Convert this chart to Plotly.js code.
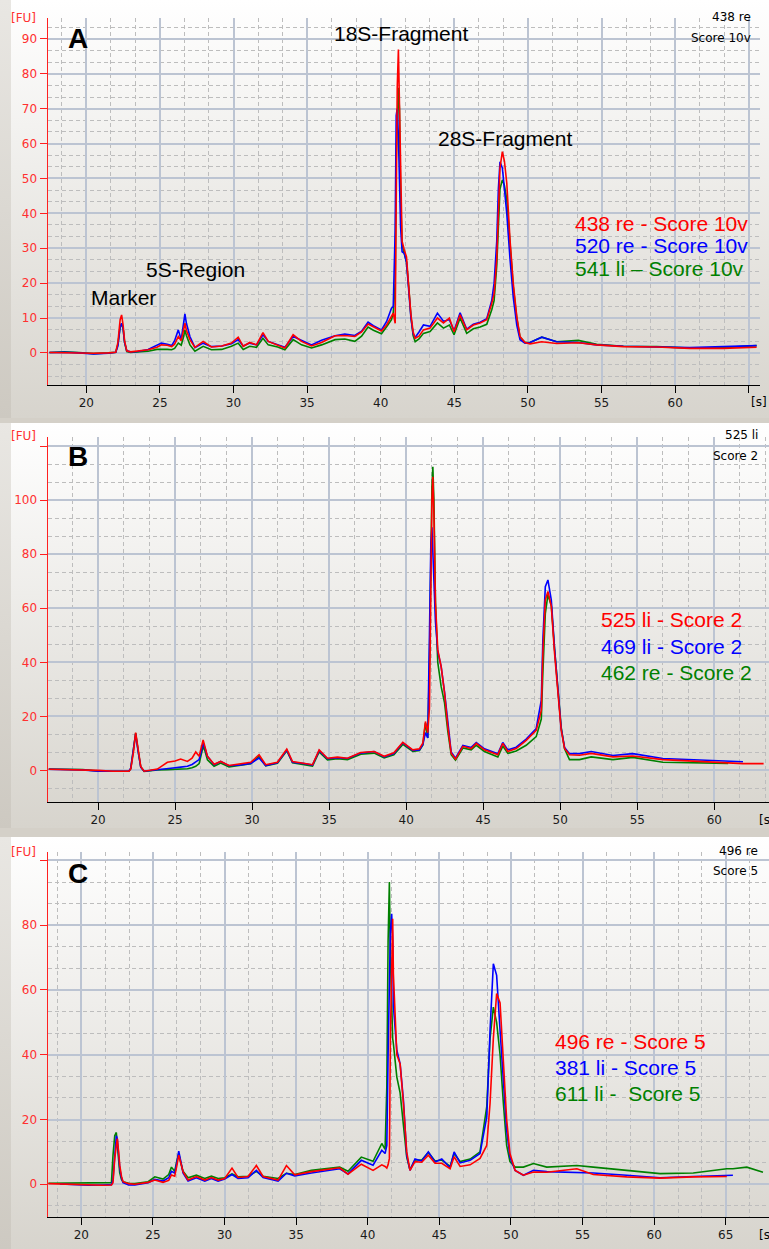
<!DOCTYPE html>
<html><head><meta charset="utf-8">
<script src="https://cdn.plot.ly/plotly-3.0.1.min.js"></script>
<style>
html,body{margin:0;padding:0;background:#d4d0c8;width:769px;height:1249px;overflow:hidden;}
.wrap{position:absolute;left:0;width:769px;background:linear-gradient(#e9e7e3,#cdc9c1);}
.panel{position:absolute;left:11px;top:0;width:758px;background:linear-gradient(#ffffff,#d7d4cd);}
</style></head><body>
<div class="wrap" style="top:0;height:418px"><div id="pa" class="panel" style="height:418px"></div></div>
<div class="wrap" style="top:423px;height:405px"><div id="pb" class="panel" style="height:405px"></div></div>
<div class="wrap" style="top:837px;height:412px"><div id="pc" class="panel" style="height:412px"></div></div>
<script>
// ---------------- Panel A data ----------------
var a_time = [17.5,18.5,19.5,20.5,21.5,22.0,22.15,22.3,22.4,22.5,22.6,22.75,23.0,23.5,24.2,24.8,25.1,25.5,25.8,26.0,26.25,26.45,26.6,26.7,26.8,27.04,27.38,27.94,28.5,29.2,29.86,30.32,30.66,31.1,31.56,32.0,32.36,33.0,33.49,34.05,34.62,35.3,35.98,36.9,37.56,38.24,38.7,39.14,39.5,40.05,40.4,40.73,40.85,40.98,41.05,41.12,41.2,41.27,41.35,41.45,41.6,41.75,41.9,42.05,42.2,42.34,42.6,42.9,43.35,43.85,44.26,44.66,44.98,45.39,45.84,46.29,46.75,47.2,47.54,47.7,47.88,47.99,48.1,48.26,48.4,48.56,48.78,49.0,49.24,49.46,49.8,50.14,50.94,51.95,53.42,54.67,56.48,58.75,61.0,63.26,65.53];
var a_red = [0.1,0.0,0.0,-0.1,0.0,0.2,3,9.5,10.9,8,3.5,0.6,0.3,0.5,0.9,1.6,2.3,2.2,1.8,2.5,4.7,3.5,6,8.5,6.5,3.8,1.6,3.3,1.7,2.0,2.8,4.5,1.9,3.0,2.3,5.8,3.3,2.3,1.4,5.2,3.3,2.0,3.0,4.9,5.0,4.7,6.0,8.3,7.5,6.3,8.0,10.5,11.4,8.5,40,76,87,72,48,32,29.5,27.5,19,11,6,4.2,4.8,6.6,7.1,10.0,8.6,10.0,6.1,10.9,6.6,8.0,8.6,9.5,14.2,17,27,42,53,57.7,55,48.7,32.4,20,10.4,4.7,3.0,2.6,3.2,2.7,2.9,2.3,1.8,1.7,1.3,1.3,1.6];
var a_blue = [0.1,0.2,0.0,-0.3,-0.1,0.2,2,7.5,8.5,7,3,0.6,0.3,0.4,1.0,2.2,2.8,2.5,2.1,3.5,6.6,3.8,8,11.2,8.5,4.7,1.5,2.8,1.8,2.0,2.6,3.8,2.0,2.8,2.3,5.2,3.3,2.4,1.6,4.7,3.5,2.3,3.6,4.9,5.4,5.0,6.2,8.8,7.8,6.6,9,12.8,13.3,35,68,70,62,45,36,29,28.5,26,18,10,5.5,4.4,6,8.0,7.6,11.4,9.1,9.5,6.3,11.5,6.8,8.2,8.8,9.8,15,20,32,47,54.8,53,47,40,27,16,8,3.8,2.8,3.0,4.5,3.2,3.0,2.3,1.9,1.6,1.5,1.8,2.1];
var a_green = [0.1,0.3,0.1,-0.2,0.0,0.2,2.5,7.5,8.2,7,3,0.4,0.1,0.2,0.5,1.0,1.05,1.0,0.9,1.3,2.8,2.2,4.5,6.6,5,2.3,0.5,1.9,0.9,1.0,1.9,2.8,1.0,1.9,1.6,4.2,2.3,1.7,0.9,3.8,2.3,1.4,2.3,3.8,4.0,3.3,4.8,7.4,6.5,5.5,7.5,9.5,11.5,20,55,68,76,70,45,31,28,26,19,10.5,5.0,3.2,4.0,5.6,6.1,8.6,7.1,8.0,5.2,10.0,5.6,6.9,7.4,8.2,12.4,15,25,38,47,49.6,48,44,30,19,10,4.5,3.0,3.0,4.5,3.2,3.6,2.5,1.9,1.8,1.4,1.5,2.1];
var a_xticks = [20,25,30,35,40,45,50,55,60,65];
var a_xlabels = ['20','25','30','35','40','45','50','55','60',''];
var a_yticks = [0,10,20,30,40,50,60,70,80,90];
var a_ylabels = ['0','10','20','30','40','50','60','70','80','90'];
var a_names = ['438 re - Score 10v','520 re - Score 10v','541 li \u2013 Score 10v'];

// ---------------- Panel B data ----------------
var b_time = [16.8,18,19,20,21,22.0,22.12,22.29,22.44,22.6,22.77,22.99,23.4,23.85,24.5,25.0,25.36,25.8,26.1,26.34,26.56,26.7,26.82,26.95,27.1,27.53,27.96,28.5,29.26,29.91,30.45,30.88,31.64,32.25,32.62,33.38,33.92,34.35,34.89,35.54,36.19,37.05,37.92,38.57,39.2,39.78,40.1,40.43,40.86,41.08,41.25,41.4,41.51,41.6,41.67,41.73,41.8,41.9,42.05,42.27,42.49,42.7,42.92,43.2,43.68,44.22,44.55,45.08,45.62,45.95,46.27,46.6,47.14,47.79,48.44,48.77,48.87,49.03,49.2,49.42,49.63,49.84,50.06,50.28,50.6,51.25,52.01,53.42,54.71,56.66,58.83,59.9,60.9,61.86,63.2];
var b_red = [0.4,0.3,0.2,0.0,-0.3,-0.3,0.5,6.5,14.0,7.6,1.5,-0.3,0.0,0.5,3.0,3.5,4.2,3.3,4.5,6.8,5.2,8,11.3,8.5,5.2,2.3,3.3,1.8,2.3,3.0,5.8,2.1,3.0,7.9,3.3,2.7,2.1,7.6,4.5,4.9,4.5,6.6,7.0,5.2,6.5,10.4,8.9,7.6,8.0,10.1,18.1,14,23,75,100,108.7,95,62,44.6,38.4,28.6,16.3,6.4,4.2,8.9,8.1,10.0,7.6,6.6,5.8,10.0,7.0,8.1,11.1,14.8,22.2,43,63.1,66.2,60.7,43.4,28.6,15,8.1,5.8,5.6,6.3,5.0,5.3,4.0,3.5,3.0,2.8,2.5,2.5];
var b_blue = [0.4,0.3,0.2,-0.3,-0.3,-0.3,0.8,8,13.5,7.0,1.2,-0.3,0.0,0.3,0.9,1.0,1.2,1.5,2.2,3.3,4.0,7,10.1,8,5.2,2.1,3.3,1.7,2.0,2.6,4.6,1.8,2.8,7.5,3.0,2.5,2.0,7.3,4.3,4.7,4.4,6.4,7.0,5.0,6.2,10.2,8.8,7.4,7.6,9.5,14,12,50,84,90,80,66,55,44,38.4,29,17,6.8,4.5,9.2,8.5,10.3,8.0,7.0,6.2,10.3,7.6,8.6,11.6,15.5,26,48,68,70.5,63,45,29,15.5,8.5,6.2,6.2,7.0,5.5,6.2,4.4,3.8,3.5,3.3,3.2,null];
var b_green = [0.5,0.4,0.3,-0.2,-0.3,-0.3,0.6,7,13.8,7.2,1.3,-0.4,0.0,0.2,0.3,0.4,0.5,0.6,1.0,1.5,2.5,5.5,8.9,7,3.9,1.5,2.7,1.3,1.8,2.5,5.2,1.7,2.6,7.3,2.8,2.2,1.6,6.8,3.9,4.3,4.0,6.0,6.4,4.6,5.8,9.6,8.3,7.0,7.4,9.4,17.5,12,40,85,105,112.4,100,62,40,31,25,14.5,5.8,3.8,8.3,7.6,9.3,7.0,5.9,5.0,9.0,6.3,7.2,9.3,12.5,19,36,58,65,61,45,30,16,8,4.0,4.0,5.0,4.0,4.8,3.0,2.8,2.6,2.6,null,null];
var b_xticks = [20,25,30,35,40,45,50,55,60];
var b_xlabels = ['20','25','30','35','40','45','50','55','60'];
var b_yticks = [0,20,40,60,80,100,120];
var b_ylabels = ['0','20','40','60','80','100',''];
var b_names = ['525 li - Score 2','469 li - Score 2','462 re - Score 2'];

// ---------------- Panel C data ----------------
var c_time = [17.7,18.5,19.5,20.5,21.5,22.1,22.21,22.33,22.44,22.51,22.6,22.68,22.8,22.91,23.3,23.73,24.66,25.13,25.7,26.1,26.29,26.52,26.68,26.8,26.95,27.1,27.45,28.03,28.62,29.08,29.55,30.01,30.52,30.94,31.64,32.22,32.69,33.74,34.32,34.9,36.06,37.35,38.04,38.62,39.55,40.37,40.98,41.21,41.33,41.42,41.51,41.58,41.67,41.74,41.79,42.03,42.26,42.49,42.72,42.95,43.3,43.77,44.23,44.7,45.17,45.75,46.03,46.45,47.15,47.84,48.31,48.54,48.77,49.0,49.24,49.47,49.7,49.93,50.29,50.87,51.57,52.5,54.6,55.75,58.08,60.41,62.73,65.07,65.5,66.47,67.6];
var c_red = [0.2,0.1,0.0,-0.3,-0.3,-0.2,0.5,8,12.5,14.1,10,5.9,2.5,0.8,0.2,0.0,0.6,1.3,0.6,1.2,2.9,2.5,6,9.0,6.5,3.9,1.3,2.4,1.3,2.1,1.3,1.8,5.0,2.1,2.4,5.8,2.4,1.3,5.8,2.9,3.9,4.7,5.1,3.1,6.2,4.3,6.0,5.5,5.0,6.0,8,45,75,82,65,40,37.2,25,10,4.3,7.0,6.8,9.0,6.5,6.5,4.8,8.5,5.5,6.0,8.0,12,25,45,58.9,56,38,20,9.5,4.3,2.8,3.8,3.7,4.8,3.0,2.3,1.9,2.3,2.4,null,null,null];
var c_blue = [null,0.1,-0.1,-0.3,-0.2,-0.1,1.5,10,15,14,9,5,2,0.5,-0.2,-0.2,0.5,1.5,1.0,2.0,4.0,3.5,7,10.2,7,3.5,1.0,2.0,1.0,1.8,1.0,1.6,3.0,1.8,2.0,4.3,2.1,1.0,3.4,2.6,3.5,4.5,4.8,3.2,7.4,5.9,10.5,9.5,12,40,70,78,83.5,75,55,41.4,37.2,26,9,4.3,7.8,7.2,10.0,6.9,7.8,5.1,10,6.6,7.4,9.5,20.8,47.5,68.1,64.5,47.5,32.1,16.7,8.4,4.3,2.8,4.3,3.9,3.5,3.5,2.8,2.0,2.4,2.8,2.8,null,null];
var c_green = [0.3,0.3,0.3,0.3,0.3,0.5,9,15,16.0,13,7,3.5,1.5,0.8,0.3,0.2,0.8,2.3,1.6,3.0,5.3,4.0,7.5,9.5,6.5,4.0,2.0,2.8,1.8,2.5,1.8,2.0,3.2,2.3,2.5,4.0,2.5,1.8,3.4,3.0,4.3,5.0,5.3,4.0,8.4,7.1,12.6,10.8,30,75,93.3,70,50,45,43.4,33.1,28.2,18.8,8.4,4.5,7.5,7.5,9.8,7.2,7.5,5.5,9.5,7.0,7.8,10.0,24,45,54.7,50,40,25,12,7,5.3,5.3,6.4,5.3,5.8,5.3,4.3,3.3,3.5,4.8,4.8,5.3,3.7];
var c_xticks = [20,25,30,35,40,45,50,55,60,65];
var c_xlabels = ['20','25','30','35','40','45','50','55','60','65'];
var c_yticks = [0,20,40,60,80,100];
var c_ylabels = ['0','20','40','60','80',''];
var c_names = ['496 re - Score 5','381 li - Score 5','611 li - \u00a0Score 5'];

// ---------------- styling ----------------
var RED = '#ff0000', BLUE = '#0000ff', GREEN = '#008000';
var SMALL = 'DejaVu Sans', BIG = 'Liberation Sans, Arial, sans-serif';

function ann(text, x, y, xref, yref, size, color, xanchor, family, bold) {
  return {text: bold ? '<b>' + text + '</b>' : text, x: x, y: y, xref: xref, yref: yref,
    showarrow: false, xanchor: xanchor, yanchor: 'middle',
    font: {size: size, color: color, family: family}};
}

// minor grid positions: every third of a major step, skipping the major ones
function minorVals(lo, hi, major) {
  var out = [], step = major / 3;
  var start = Math.ceil(lo / step);
  for (var k = start; k * step <= hi; k++) {
    if (k % 3 !== 0) out.push(+(k * step).toFixed(6));
  }
  return out;
}

function makePanel(id, cfg) {
  var traces = [
    {x: cfg.time, y: cfg.green, color: GREEN},
    {x: cfg.time, y: cfg.blue, color: BLUE},
    {x: cfg.time, y: cfg.red, color: RED}
  ].map(function (t) {
    return {type: 'scatter', mode: 'lines', x: t.x, y: t.y, connectgaps: false,
      line: {color: t.color, width: 1.6}, hoverinfo: 'skip', showlegend: false};
  });
  var anns = [];
  anns.push(ann(cfg.letter, cfg.letterPos[0], cfg.letterPos[1], 'x', 'y', 28, '#000', 'center', BIG, true));
  var cols = [RED, BLUE, GREEN];
  for (var i = 0; i < 3; i++) {
    anns.push(ann(cfg.names[i], cfg.legX, cfg.legY[i], 'x', 'y', 21, cols[i], 'left', BIG, false));
  }
  anns.push(ann(cfg.corner[0], cfg.cornerX, cfg.cornerY[0], 'paper', 'paper', 12, '#000', 'right', SMALL, false));
  anns.push(ann(cfg.corner[1], cfg.cornerX, cfg.cornerY[1], 'paper', 'paper', 12, '#000', 'right', SMALL, false));
  anns.push(ann('[FU]', cfg.fuPos[0], cfg.fuPos[1], 'paper', 'paper', 12, '#ff3030', 'right', SMALL, false));
  anns.push(ann(cfg.sText, cfg.sPos[0], cfg.sPos[1], 'paper', 'paper', 12, '#000', 'left', SMALL, false));
  (cfg.extra || []).forEach(function (e) {
    anns.push(ann(e[0], e[1], e[2], 'x', 'y', 21, '#000', 'center', BIG, false));
  });
  var minorStyle = {showgrid: true, gridcolor: '#bdbdbd', gridwidth: 1, griddash: '4px,3px', ticks: ''};
  var layout = {
    width: 758, height: cfg.height,
    margin: cfg.margin,
    paper_bgcolor: 'rgba(0,0,0,0)', plot_bgcolor: 'rgba(0,0,0,0)',
    showlegend: false,
    font: {family: SMALL, size: 12},
    xaxis: {
      range: cfg.xrange, autorange: false, zeroline: false,
      tickmode: 'array', tickvals: cfg.xticks, ticktext: cfg.xlabels,
      showline: true, linecolor: '#000', linewidth: 1,
      ticks: 'outside', ticklen: 7, tickcolor: '#000', tickwidth: 1,
      tickfont: {family: SMALL, size: 12, color: '#1a1a1a'},
      showgrid: true, gridcolor: '#bcc4d2', gridwidth: 2,
      minor: Object.assign({tickmode: 'array', tickvals: minorVals(cfg.xrange[0], cfg.xrange[1], 5)}, minorStyle)
    },
    yaxis: {
      range: cfg.yrange, autorange: false, zeroline: false,
      tickmode: 'array', tickvals: cfg.yticks, ticktext: cfg.ylabels,
      showline: true, linecolor: '#ff2020', linewidth: 1.5,
      ticks: 'outside', ticklen: 7, tickcolor: '#ff2020', tickwidth: 1,
      tickfont: {family: SMALL, size: 12, color: '#ff3030'},
      showgrid: true, gridcolor: '#bcc4d2', gridwidth: 2,
      minor: Object.assign({tickmode: 'array', tickvals: minorVals(cfg.yrange[0], cfg.yrange[1], cfg.ymajor)}, minorStyle)
    },
    annotations: anns
  };
  Plotly.newPlot(id, traces, layout, {staticPlot: true, displayModeBar: false});
}

makePanel('pa', {
  time: a_time, red: a_red, blue: a_blue, green: a_green, names: a_names,
  height: 418, margin: {l: 37, r: 9, t: 18, b: 33, pad: 0},
  xrange: [17.4, 65.76], yrange: [-9.2, 96], ymajor: 10,
  xticks: a_xticks, xlabels: a_xlabels, yticks: a_yticks, ylabels: a_ylabels,
  letter: 'A', letterPos: [19.44, 90.1],
  legX: 53.07, legY: [37.2, 30.65, 24.06],
  corner: ['438 re', 'Score 10v'], cornerX: 0.990, cornerY: [1.0035, 0.9447],
  fuPos: [-0.0145, 1.0], sText: '[s]', sPos: [0.9846, -0.0455],
  extra: [['18S-Fragment', 41.4, 91.7], ['28S-Fragment', 48.41, 61.6], ['5S-Region', 27.45, 23.8], ['Marker', 22.5, 15.75]]
});

makePanel('pb', {
  time: b_time, red: b_red, blue: b_blue, green: b_green, names: b_names,
  height: 405, margin: {l: 37, r: 0, t: 14, b: 26, pad: 0},
  xrange: [16.75, 63.55], yrange: [-11.7, 123.4], ymajor: 20,
  xticks: b_xticks, xlabels: b_xlabels, yticks: b_yticks, ylabels: b_ylabels,
  letter: 'B', letterPos: [18.70, 116.1],
  legX: 52.51, legY: [55.7, 45.85, 36.4],
  corner: ['525 li', 'Score 2'], cornerX: 0.9875, cornerY: [1.0055, 0.9488],
  fuPos: [-0.0143, 1.0036], sText: '[s', sPos: [0.984, -0.0485]
});

makePanel('pc', {
  time: c_time, red: c_red, blue: c_blue, green: c_green, names: c_names,
  height: 412, margin: {l: 37, r: 0, t: 15, b: 32, pad: 0},
  xrange: [17.67, 68.02], yrange: [-10.1, 102.6], ymajor: 20,
  xticks: c_xticks, xlabels: c_xlabels, yticks: c_yticks, ylabels: c_ylabels,
  letter: 'C', letterPos: [19.76, 96.0],
  legX: 52.96, legY: [43.94, 36.0, 28.0],
  corner: ['496 re', 'Score 5'], cornerX: 0.9875, cornerY: [1.0027, 0.948],
  fuPos: [-0.0143, 1.0], sText: '[s', sPos: [0.984, -0.050]
});
</script>
</body></html>
